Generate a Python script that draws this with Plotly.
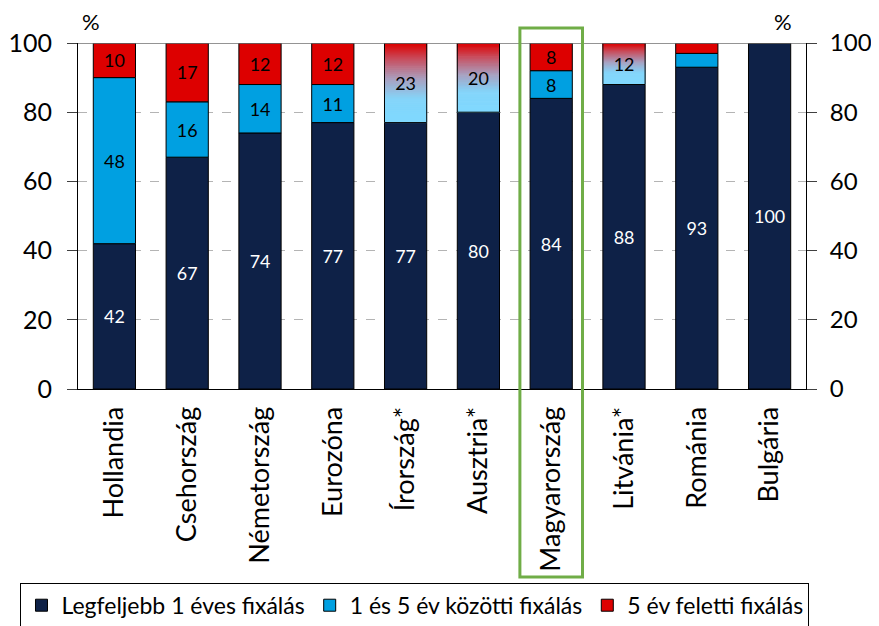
import plotly.graph_objects as go

categories = ["Hollandia", "Csehország", "Németország", "Eurozóna", "Írország*",
              "Ausztria*", "Magyarország", "Litvánia*", "Románia", "Bulgária"]
short_fix = [42, 67, 74, 77, 77, 80, 84, 88, 93, 100]      # Legfeljebb 1 éves fixálás
mid_fix = [48, 16, 14, 11, None, None, 8, None, 4, 0]       # 1 és 5 év közötti fixálás
long_fix = [10, 17, 12, 12, None, None, 8, None, 3, 0]      # 5 év feletti fixálás
combined_only = [None, None, None, None, 23, 20, None, 12, None, None]  # 1+ years shown jointly
short_labels = ["42", "67", "74", "77", "77", "80", "84", "88", "93", "100"]
mid_labels = ["48", "16", "14", "11", "", "", "8", "", "", ""]
long_labels = ["10", "17", "12", "12", "", "", "8", "", "", ""]
combined_labels = ["", "", "", "", "23", "20", "", "12", "", ""]
yticks = [0, 20, 40, 60, 80, 100]

NAVY = "#0e2147"
BLUE = "#00a0e1"
RED = "#dd0000"
FONT = "Lato, Liberation Sans, sans-serif"
LBL = 19

x = list(range(len(categories)))
W = 0.58

fig = go.Figure()

fig.add_bar(x=x, y=short_fix, base=[0] * len(x), width=W, name="Legfeljebb 1 éves fixálás",
            marker=dict(color=NAVY, line=dict(color="black", width=1)),
            text=short_labels, textposition="inside", insidetextanchor="middle",
            textangle=0, textfont=dict(color="white", size=LBL, family=FONT))

mid_base = [s for s in short_fix]
fig.add_bar(x=x, y=mid_fix, base=mid_base, width=W, name="1 és 5 év közötti fixálás",
            marker=dict(color=BLUE, line=dict(color="black", width=1)),
            text=mid_labels, textposition="inside", insidetextanchor="middle",
            textangle=0, textfont=dict(color="black", size=LBL, family=FONT))

long_base = [s + (m or 0) for s, m in zip(short_fix, mid_fix)]
fig.add_bar(x=x, y=long_fix, base=long_base, width=W, name="5 év feletti fixálás",
            marker=dict(color=RED, line=dict(color="black", width=1)),
            text=long_labels, textposition="inside", insidetextanchor="middle",
            textangle=0, textfont=dict(color="black", size=LBL, family=FONT))

# gradient for jointly shown categories
stops = [(0.0, (0x80, 0xd9, 0xff)), (0.3, (0x84, 0xd5, 0xfa)), (0.55, (0xa8, 0xa0, 0xc0)),
         (0.8, (0xc8, 0x50, 0x60)), (1.0, (0xdc, 0x00, 0x00))]


def grad(t):
    for (t0, c0), (t1, c1) in zip(stops[:-1], stops[1:]):
        if t <= t1:
            f = (t - t0) / (t1 - t0)
            return "rgb(%d,%d,%d)" % tuple(round(a + (b - a) * f) for a, b in zip(c0, c1))
    return "rgb(%d,%d,%d)" % stops[-1][1]


N = 40
for k in range(N):
    ys = [c / N if c else None for c in combined_only]
    bs = [s + c * k / N if c else None for s, c in zip(short_fix, combined_only)]
    col = grad((k + 0.5) / N)
    fig.add_bar(x=x, y=ys, base=bs, width=W, showlegend=False, hoverinfo="skip",
                marker=dict(color=col, line=dict(color=col, width=1)))

fig.add_bar(x=x, y=combined_only, base=short_fix, width=W, showlegend=False,
            marker=dict(color="rgba(0,0,0,0)", line=dict(color="black", width=1)),
            text=combined_labels, textposition="inside", insidetextanchor="middle",
            textangle=0, textfont=dict(color="black", size=LBL, family=FONT))

# invisible trace for right axis
fig.add_scatter(x=[0], y=[0], yaxis="y2", mode="markers", marker=dict(opacity=0),
                showlegend=False, hoverinfo="skip")

fig.update_layout(
    width=871, height=618,
    barmode="overlay",
    paper_bgcolor="white", plot_bgcolor="white",
    margin=dict(l=70, r=73, t=35, b=237, autoexpand=False),
    font=dict(family=FONT, size=24, color="black"),
    xaxis=dict(range=[-0.5, 9.5], tickmode="array", tickvals=x, ticktext=categories,
               tickangle=-90, showline=True, linecolor="black", linewidth=1,
               ticks="outside", ticklen=6, tickcolor="rgba(0,0,0,0)", showgrid=False,
               zeroline=False, tickfont=dict(size=27), automargin=False),
    yaxis=dict(range=[0, 100], tickvals=yticks, showline=True, linecolor="black", linewidth=1,
               ticks="outside", ticklen=10, tickcolor="#404040", showgrid=True,
               gridcolor="#b4b4b4", griddash="dash", gridwidth=1, zeroline=False,
               tickfont=dict(size=25), automargin=False, ticklabelstandoff=10),
    yaxis2=dict(range=[0, 100], tickvals=yticks, overlaying="y", side="right",
                showline=True, linecolor="black", linewidth=1, ticks="outside", ticklen=10,
                tickcolor="#404040", showgrid=False, zeroline=False, tickfont=dict(size=24),
                automargin=False, ticklabelstandoff=8),
    legend=dict(orientation="h", x=-0.079, xanchor="left", y=-0.56, yanchor="top",
                bordercolor="black", borderwidth=1,
                font=dict(size=23, family=FONT),
                itemwidth=30, traceorder="normal"),
    showlegend=True,
    uniformtext=dict(minsize=14, mode="show"),
)

fig.add_shape(type="line", xref="paper", yref="y", x0=0, x1=1, y0=100, y1=100,
              line=dict(color="#707070", width=1.5))
fig.add_shape(type="rect", xref="x", yref="paper", x0=6 - 0.43, x1=6 + 0.43,
              y0=-0.543, y1=1.043, line=dict(color="#70ad47", width=3))

fig.add_annotation(text="%", xref="paper", yref="paper", x=0.018, y=1.018,
                   xanchor="center", yanchor="bottom", showarrow=False, font=dict(size=22))
fig.add_annotation(text="%", xref="paper", yref="paper", x=0.968, y=1.018,
                   xanchor="center", yanchor="bottom", showarrow=False, font=dict(size=22))

fig.write_html("out.html")
